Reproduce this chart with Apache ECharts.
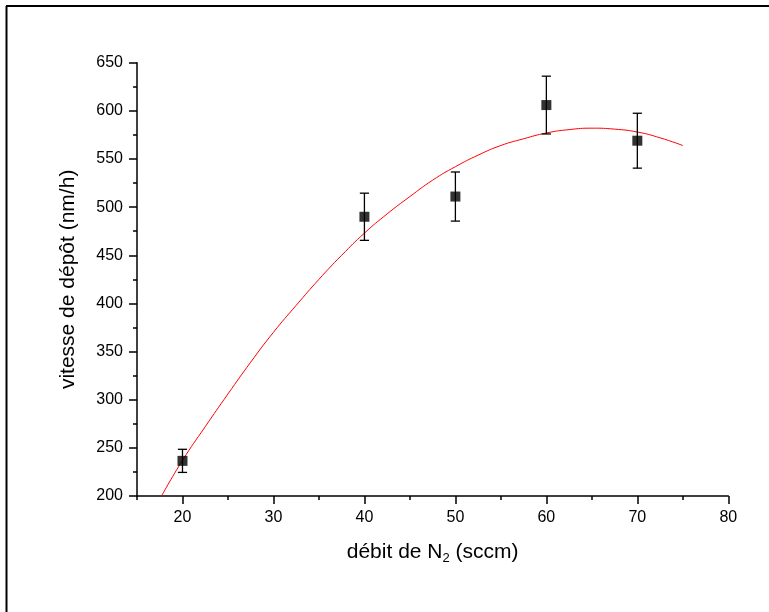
<!DOCTYPE html>
<html>
<head>
<meta charset="utf-8">
<script src="https://cdn.jsdelivr.net/npm/echarts@6/dist/echarts.min.js"></script>
<style>
html,body{margin:0;padding:0;background:#fff;}
#c{width:769px;height:612px;}
</style>
</head>
<body>
<div id="c"></div>
<script>
// Measured data points
var flowN2 = [20, 40, 50, 60, 70];
var depositionRate = [236.5, 490, 511, 606, 569];
var rateError = [12, 24.5, 25.5, 30, 28.5];
// Fitted curve
var fitX = [17.7, 20, 22.5, 25, 27.5, 30, 32.5, 35, 37.5, 40, 42.5, 45, 47.5, 50, 52.5, 55, 57.5, 60, 62.5, 65, 67.5, 70, 72.5, 75];
var fitY = [200, 237, 272, 306, 339, 370, 398, 425, 450, 473, 493, 511, 528, 542, 554, 564, 571, 577, 580.5, 582, 581, 578, 572, 564];
// Axis ticks
var xTicks = [20, 30, 40, 50, 60, 70, 80];
var yTicks = [200, 250, 300, 350, 400, 450, 500, 550, 600, 650];

var chart = echarts.init(document.getElementById('c'), null, {renderer: 'canvas'});
var font = 'Liberation Sans, Arial, Helvetica, sans-serif';

var pts = flowN2.map(function (x, i) { return [x, depositionRate[i]]; });
var errData = flowN2.map(function (x, i) { return [x, depositionRate[i] - rateError[i], depositionRate[i] + rateError[i]]; });
var fitData = fitX.map(function (x, i) { return [x, fitY[i]]; });

var axisLineStyle = {color: '#000', width: 1.5};

chart.setOption({
  animation: false,
  backgroundColor: '#fff',
  grid: {left: 137, top: 62.7, right: 40.7, bottom: 116, containLabel: false},
  graphic: [
    {type: 'line', shape: {x1: 6, y1: 6, x2: 769, y2: 6}, style: {stroke: '#000', lineWidth: 2}},
    {type: 'line', shape: {x1: 6.5, y1: 6, x2: 6.5, y2: 612}, style: {stroke: '#000', lineWidth: 2}}
  ],
  xAxis: [{
    type: 'value', min: 15, max: 80,
    name: 'débit de N{sub|2} (sccm)',
    nameLocation: 'middle', nameGap: 44,
    nameTextStyle: {fontFamily: font, fontSize: 21, color: '#000',
      rich: {sub: {fontFamily: font, fontSize: 13, color: '#000', verticalAlign: 'bottom', padding: [12, 0, 0, 0]}}},
    axisLine: {lineStyle: axisLineStyle},
    axisTick: {inside: false, length: 8, lineStyle: axisLineStyle, customValues: xTicks},
    axisLabel: {fontFamily: font, fontSize: 16, color: '#000', margin: 14, customValues: xTicks},
    splitLine: {show: false}
  }, {
    type: 'value', min: 15, max: 80, interval: 5, position: 'bottom',
    axisLine: {show: false},
    axisTick: {inside: false, length: 4, lineStyle: axisLineStyle},
    axisLabel: {show: false},
    splitLine: {show: false}
  }],
  yAxis: {
    type: 'value', min: 200, max: 650, interval: 50,
    name: 'vitesse de dépôt (nm/h)',
    nameLocation: 'middle', nameGap: 58, nameRotate: 90,
    nameTextStyle: {fontFamily: font, fontSize: 21, color: '#000'},
    axisLine: {lineStyle: axisLineStyle},
    axisTick: {inside: false, length: 8, lineStyle: axisLineStyle},
    minorTick: {show: true, splitNumber: 2, length: 4, lineStyle: axisLineStyle},
    axisLabel: {fontFamily: font, fontSize: 16, color: '#000', margin: 14},
    splitLine: {show: false},
    minorSplitLine: {show: false}
  },
  series: [
    {
      type: 'line', data: fitData, smooth: true, showSymbol: false, symbol: 'none',
      lineStyle: {color: '#ff0000', width: 1}, z: 2
    },
    {
      type: 'custom', data: errData, z: 3,
      renderItem: function (params, api) {
        var x = api.value(0);
        var lo = api.coord([x, api.value(1)]);
        var hi = api.coord([x, api.value(2)]);
        var cw = 4.6;
        var st = {stroke: '#000', lineWidth: 1.3};
        return {type: 'group', children: [
          {type: 'line', shape: {x1: hi[0], y1: hi[1], x2: lo[0], y2: lo[1]}, style: st},
          {type: 'line', shape: {x1: hi[0] - cw, y1: hi[1], x2: hi[0] + cw, y2: hi[1]}, style: st},
          {type: 'line', shape: {x1: lo[0] - cw, y1: lo[1], x2: lo[0] + cw, y2: lo[1]}, style: st}
        ]};
      }
    },
    {
      type: 'scatter', data: pts, symbol: 'rect', symbolSize: 10,
      itemStyle: {color: '#000'}, z: 4
    }
  ]
});
</script>
</body>
</html>
